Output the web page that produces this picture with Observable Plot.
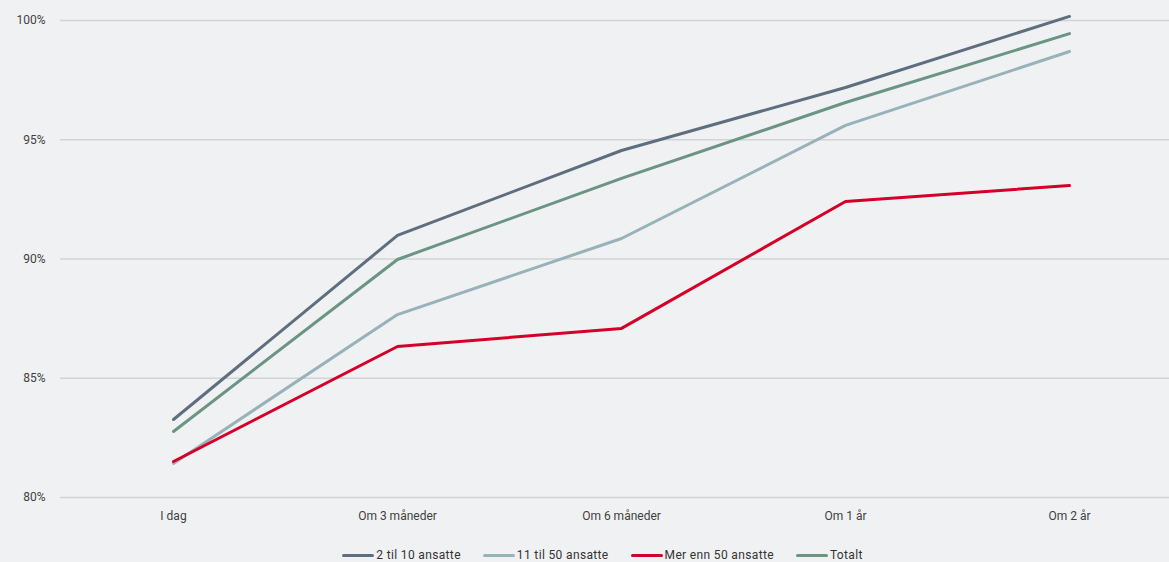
<!DOCTYPE html>
<html>
<head>
<meta charset="utf-8">
<script src="https://cdn.jsdelivr.net/npm/d3@7"></script>
<script src="https://cdn.jsdelivr.net/npm/@observablehq/plot@0.6"></script>
<style>
  html, body { margin: 0; padding: 0; background: #f0f1f3; }
  body { width: 1169px; height: 562px; overflow: hidden; font-family: Roboto, "Liberation Sans", sans-serif; }
  #legend { display: flex; justify-content: center; gap: 22px; font-size: 12px; letter-spacing: 0.35px; color: #333; line-height: 14px; margin-top: 4px; padding-left: 36px; }
  .item { display: flex; align-items: center; gap: 2px; }
  .sw { width: 32px; height: 3px; border-radius: 2px; }
</style>
</head>
<body>
<div id="chart"></div>
<div id="legend"></div>
<script>
const categories = ["I dag", "Om 3 måneder", "Om 6 måneder", "Om 1 år", "Om 2 år"];
const seriesNames = ["2 til 10 ansatte", "11 til 50 ansatte", "Mer enn 50 ansatte", "Totalt"];
const seriesColors = ["#5e6e7e", "#98b2ba", "#d5002a", "#6b9482"];
const s2til10 = [83.27, 90.99, 94.55, 97.19, 100.17];
const s11til50 = [81.43, 87.67, 90.86, 95.6, 98.7];
const sMer50 = [81.51, 86.33, 87.09, 92.41, 93.08];
const sTotalt = [82.77, 89.98, 93.38, 96.56, 99.45];
const yTicks = [80, 85, 90, 95, 100];

const allSeries = [s2til10, s11til50, sMer50, sTotalt];
const data = [];
allSeries.forEach((vals, i) => vals.forEach((v, j) => data.push({series: seriesNames[i], cat: categories[j], value: v})));

const plot = Plot.plot({
  width: 1169,
  height: 544,
  marginLeft: 60,
  marginRight: 0,
  marginTop: 20,
  marginBottom: 47,
  style: {background: "transparent", fontSize: "12px", fontFamily: "Roboto, 'Liberation Sans', sans-serif", color: "#3f3f3f"},
  x: {type: "point", domain: categories, range: [172, 1070], padding: 0, label: null},
  y: {domain: [80, 100], label: null},
  color: {domain: seriesNames, range: seriesColors},
  marks: [
    Plot.ruleY(yTicks, {stroke: "#d2d3d6", strokeWidth: 1.5}),
    Plot.axisY({ticks: yTicks, tickSize: 0, tickPadding: 15, tickFormat: d => d + "%", label: null}),
    Plot.axisX({tickSize: 0, tickPadding: 14, label: null}),
    Plot.lineY(data, {x: "cat", y: "value", z: "series", stroke: "series", strokeWidth: 3, strokeLinecap: "round", strokeLinejoin: "round"})
  ]
});
document.getElementById("chart").appendChild(plot);

const legend = document.getElementById("legend");
seriesNames.forEach((n, i) => {
  const it = document.createElement("div");
  it.className = "item";
  const sw = document.createElement("span");
  sw.className = "sw";
  sw.style.background = seriesColors[i];
  const t = document.createElement("span");
  t.textContent = n;
  it.appendChild(sw); it.appendChild(t);
  legend.appendChild(it);
});
</script>
</body>
</html>
